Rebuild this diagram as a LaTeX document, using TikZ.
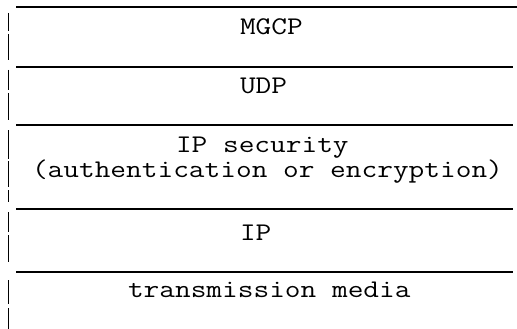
\documentclass[tikz,border=0pt]{standalone}
\usepackage{fontspec}
\setmonofont{Latin Modern Mono}[FakeStretch=1.2]
\begin{document}
\begin{tikzpicture}[x=1pt,y=-1pt,
  rule/.style={line width=1.5pt,black},
  bar/.style={line width=1.6pt,black},
  layer/.style={anchor=base west,inner sep=0pt,outer sep=0pt,
    font=\ttfamily\fontsize{25.4pt}{20pt}\selectfont,text=black}]
\useasboundingbox (0,0) rectangle (517,329);
% left border of the stack
\draw[bar] (8.5,13) -- (8.5,31);
\draw[bar] (8.5,34) -- (8.5,60);
\draw[bar] (8.5,70) -- (8.5,90);
\draw[bar] (8.5,93) -- (8.5,120);
\draw[bar] (8.5,130) -- (8.5,159);
\draw[bar] (8.5,161) -- (8.5,187);
\draw[bar] (8.5,190) -- (8.5,202);
\draw[bar] (8.5,212) -- (8.5,232);
\draw[bar] (8.5,235) -- (8.5,262);
\draw[bar] (8.5,280) -- (8.5,304);
\draw[bar] (8.5,308) -- (8.5,329);
% layer separators
\draw[rule] (16,7) -- (520,7);
\draw[rule] (16,67) -- (513,67);
\draw[rule] (16,125) -- (513,125);
\draw[rule] (16,209) -- (513,209);
\draw[rule] (16,272) -- (513,272);
% layer names
\node[layer] (mgcp) at (240,35) {MGCP};
\node[layer] (udp) at (240,93) {UDP};
\node[layer,text depth=0pt] (ipsec) at (176,152) {IP security};
\node[layer] (auth) at (32,177) {(authentication or encryption)};
\node[layer] (ip) at (240,240) {IP};
\node[layer] (media) at (128,297) {transmission media};
\end{tikzpicture}
\end{document}
